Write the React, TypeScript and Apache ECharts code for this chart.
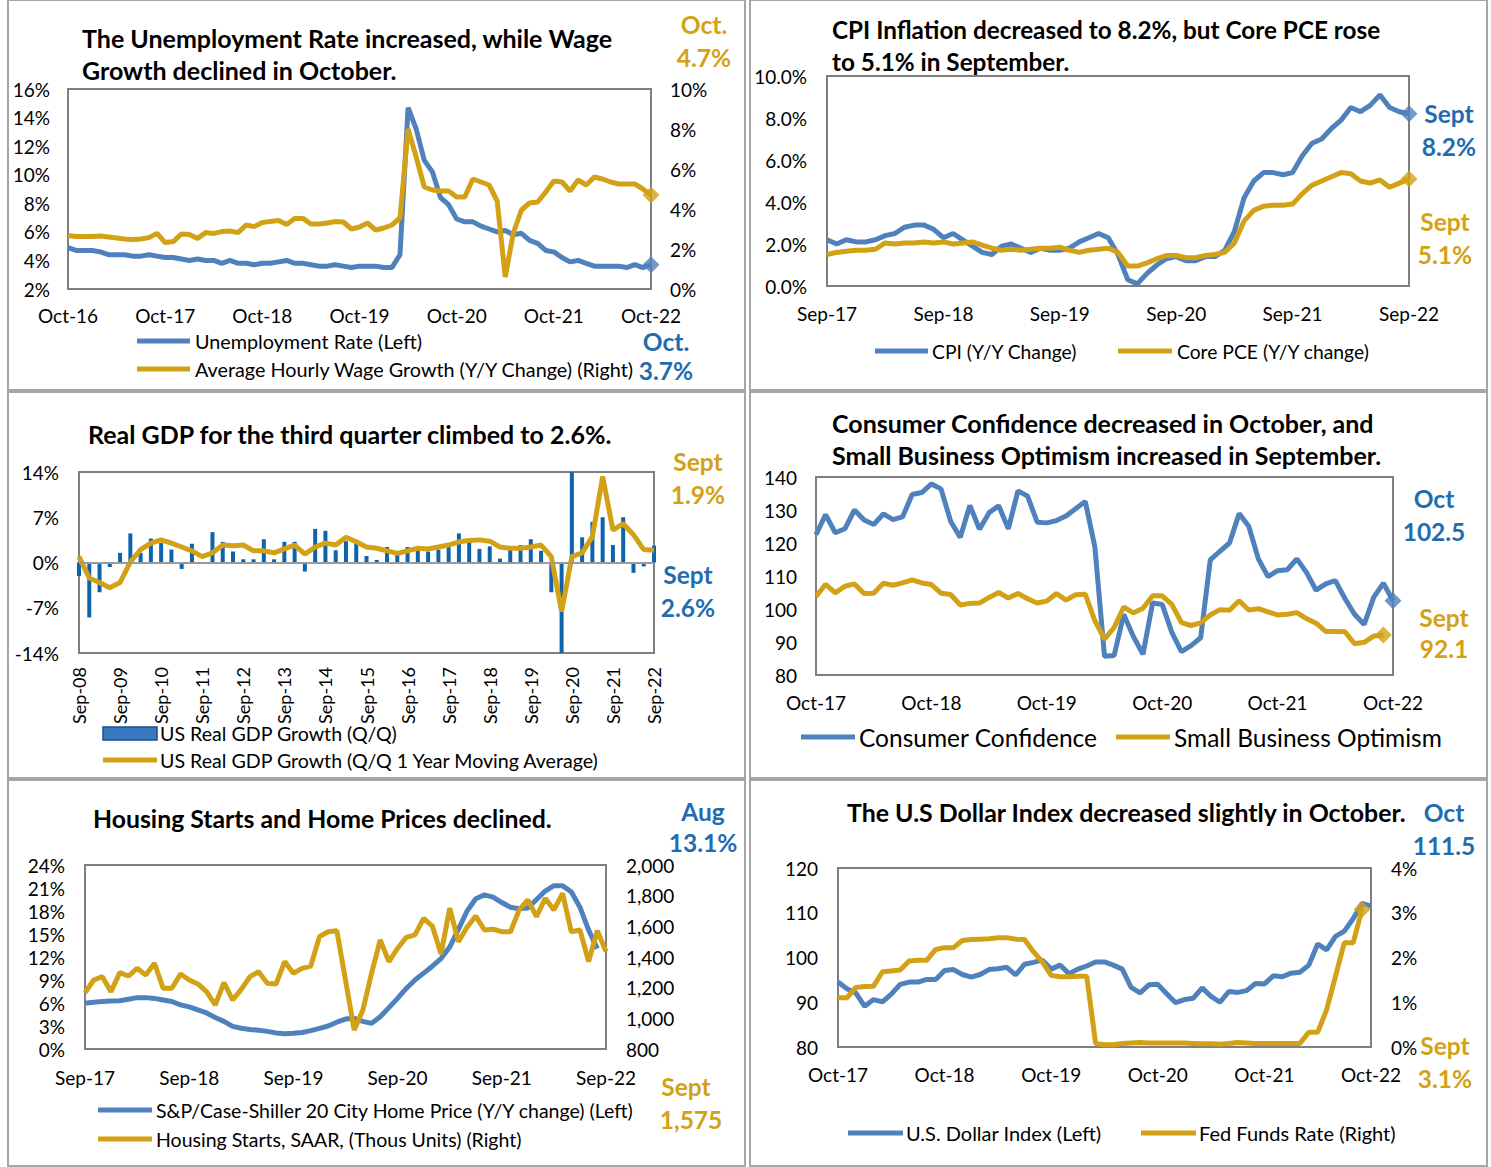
import React, { useEffect, useRef } from "react";
import * as echarts from "echarts";

const FONT = 'Lato, "Open Sans", sans-serif';
const BLUE = "#4F81BD";
const BLUE_TXT = "#1F6CB0";
const GOLD = "#D2A115";
const BAR = "#0E63AD";

const MONTHS = ["Jan", "Feb", "Mar", "Apr", "May", "Jun", "Jul", "Aug", "Sep", "Oct", "Nov", "Dec"];
function monthLabels(startMonth: number, startYear: number, count: number, step = 1): string[] {
  const out: string[] = [];
  let m = startMonth;
  let y = startYear;
  for (let i = 0; i < count; i++) {
    out.push(`${MONTHS[m]}-${String(y % 100).padStart(2, "0")}`);
    m += step;
    while (m > 11) { m -= 12; y += 1; }
  }
  return out;
}

// ---------- Panel 1: Unemployment vs wage growth (Oct-16 .. Oct-22)
const unempCats = monthLabels(9, 2016, 73);
const unemploymentRate = [
  4.9, 4.7, 4.7,
  4.7, 4.6, 4.4, 4.4, 4.4, 4.3, 4.3, 4.4, 4.3, 4.2, 4.2, 4.1,
  4.0, 4.1, 4.0, 4.0, 3.8, 4.0, 3.8, 3.8, 3.7, 3.8, 3.8, 3.9,
  4.0, 3.8, 3.8, 3.7, 3.6, 3.6, 3.7, 3.6, 3.5, 3.6, 3.6, 3.6,
  3.5, 3.5, 4.4, 14.7, 13.2, 11.0, 10.2, 8.4, 7.9, 6.9, 6.7, 6.7,
  6.4, 6.2, 6.0, 6.1, 5.8, 5.9, 5.4, 5.2, 4.7, 4.6, 4.2, 3.9,
  4.0, 3.8, 3.6, 3.6, 3.6, 3.6, 3.5, 3.7, 3.5, 3.7,
];
const wageGrowth = [
  2.67, 2.63, 2.62, 2.62, 2.65, 2.6, 2.55, 2.5, 2.48, 2.5,
  2.57, 2.78, 2.32, 2.37, 2.75, 2.72, 2.53, 2.82, 2.78, 2.87,
  2.9, 2.82, 3.2, 3.12, 3.32, 3.38, 3.42, 3.23, 3.53, 3.53,
  3.25, 3.25, 3.3, 3.37, 3.35, 3.0, 3.1, 3.3, 2.95, 3.05,
  3.2, 3.55, 8.0, 6.6, 5.1, 4.95, 4.9, 4.9, 4.6, 4.6,
  5.5, 5.35, 5.2, 4.4, 0.6, 2.8, 3.95, 4.3, 4.35, 4.85,
  5.4, 5.35, 4.9, 5.45, 5.2, 5.6, 5.5, 5.35, 5.25, 5.25,
  5.25, 5.0, 4.7,
];

// ---------- Panel 2: CPI vs Core PCE (Sep-17 .. Sep-22)
const cpiCats = monthLabels(8, 2017, 61);
const cpi = [
  2.2, 2.0, 2.2, 2.1,
  2.1, 2.2, 2.4, 2.5, 2.8, 2.9, 2.9, 2.7, 2.3, 2.5, 2.2, 1.9,
  1.6, 1.5, 1.9, 2.0, 1.8, 1.6, 1.8, 1.7, 1.7, 1.8, 2.1, 2.3,
  2.5, 2.3, 1.5, 0.3, 0.1, 0.6, 1.0, 1.3, 1.4, 1.2, 1.2, 1.4,
  1.4, 1.7, 2.6, 4.2, 5.0, 5.4, 5.4, 5.3, 5.4, 6.2, 6.8, 7.0,
  7.5, 7.9, 8.5, 8.3, 8.6, 9.1, 8.5, 8.3, 8.2,
];
const corePce = [
  1.5, 1.6, 1.65, 1.7, 1.7, 1.75, 2.05, 2.0, 2.05, 2.05, 2.1, 2.05, 2.1, 2.0, 2.05, 2.1,
  1.95, 1.8, 1.7, 1.75, 1.7, 1.75, 1.8, 1.8, 1.85, 1.7, 1.6, 1.7,
  1.75, 1.8, 1.6, 0.95, 0.95, 1.1, 1.3, 1.45, 1.45, 1.35, 1.35, 1.45, 1.5,
  1.6, 2.05, 3.1, 3.6, 3.8, 3.85, 3.85, 3.9, 4.4, 4.8, 5.0, 5.2, 5.4, 5.35, 5.0, 4.9, 5.05, 4.7, 4.9, 5.1,
];

// ---------- Panel 3: Real GDP (Sep-08 .. Sep-22, quarterly)
const gdpCats = monthLabels(8, 2008, 57, 3);
const gdpGrowth = [
  -2.1, -8.5,
  -4.6, -0.7, 1.5, 4.5,
  1.5, 3.7, 3.0, 2.0,
  -1.0, 2.9, -0.1, 4.7,
  3.2, 1.7, 0.5, 0.5,
  3.6, 0.5, 3.2, 3.2,
  -1.4, 5.2, 4.9, 1.9,
  3.3, 3.3, 1.0, 0.4,
  2.4, 1.2, 2.4, 2.0,
  1.7, 2.0, 2.9, 4.5,
  3.3, 2.1, 2.5, 0.6,
  2.2, 2.7, 3.6, 1.8,
  -4.6, -29.9, 35.3, 3.9,
  6.3, 7.0, 2.7, 7.0,
  -1.6, -0.6, 2.6,
];
const gdpMovingAvg = [
  0.9, -2.4, -3.1, -3.9, -3.1, 0.1, 2.0, 3.0, 3.5, 3.0,
  2.4, 1.8, 0.9, 1.5, 2.7, 2.6, 2.7, 1.8, 1.8, 1.5,
  2.1, 2.7, 1.3, 2.4, 3.0, 2.7, 3.9, 3.2, 2.4, 2.2,
  1.8, 1.4, 1.8, 2.2, 2.1, 2.4, 2.7, 3.2, 3.4, 3.5,
  3.3, 2.4, 2.2, 2.2, 2.4, 2.7, 0.9, -7.6, 0.9, 1.5,
  4.0, 13.3, 5.0, 6.0, 4.3, 2.0, 1.9,
];

// ---------- Panel 4: Consumer Confidence vs Small Business Optimism (Oct-17 .. Oct-22)
const ccCats = monthLabels(9, 2017, 61);
const consumerConfidence = [
  122.5, 128.6, 123.1,
  124.3, 130.0, 127.0, 125.6, 128.8, 127.1, 127.9, 134.7, 135.3, 137.9, 136.4, 126.6,
  121.7, 131.4, 124.2, 129.2, 131.3, 124.3, 135.8, 134.2, 126.3, 126.1, 126.8, 128.2,
  130.4, 132.6, 118.8, 85.7, 85.9, 98.3, 91.7, 86.3, 101.8, 101.4, 92.9, 87.1,
  88.9, 91.3, 114.9, 117.5, 120.0, 128.9, 125.1, 115.2, 109.8, 111.6, 111.9, 115.2,
  111.1, 105.7, 107.6, 108.6, 103.2, 98.4, 95.3, 103.6, 107.8, 102.5,
];
const smallBizOptimism = [
  103.8, 107.5, 104.9,
  106.9, 107.6, 104.7, 104.8, 107.8, 107.2, 107.9, 108.8, 107.9, 107.4, 104.8, 104.4,
  101.2, 101.7, 101.8, 103.5, 105.0, 103.3, 104.7, 103.1, 101.8, 102.4, 104.7, 102.7,
  104.3, 104.5, 96.4, 90.9, 94.4, 100.6, 98.8, 100.2, 104.0, 104.0, 101.4, 95.9,
  95.0, 95.8, 98.2, 99.8, 99.6, 102.5, 99.7, 100.1, 99.1, 98.2, 98.4, 98.9,
  97.1, 95.7, 93.2, 93.2, 93.1, 89.5, 89.9, 91.8, 92.1,
];

// ---------- Panel 5: Case-Shiller vs Housing starts (Sep-17 .. Sep-22)
const housingCats = monthLabels(8, 2017, 61);
const caseShiller = [
  5.96, 6.1, 6.2, 6.25, 6.3, 6.5, 6.7, 6.7, 6.6, 6.4,
  6.2, 5.75, 5.5, 5.1, 4.7, 4.1, 3.6, 2.95, 2.7, 2.55,
  2.45, 2.3, 2.1, 2.0, 2.05, 2.15, 2.4, 2.7, 3.0, 3.5,
  3.9, 4.0, 3.6, 3.35, 4.2, 5.4, 6.6, 7.9, 9.0, 9.9,
  10.8, 11.8, 13.3, 15.6, 18.0, 19.6, 20.1, 19.8, 19.1, 18.5,
  18.3, 18.4, 19.5, 20.6, 21.3, 21.3, 20.5, 18.5, 15.5, 13.1,
];
const housingStarts = [
  1167, 1250, 1272, 1174, 1298, 1276, 1326, 1283, 1359, 1196,
  1196, 1289, 1250, 1224, 1174, 1087, 1233, 1120, 1189, 1272,
  1304, 1228, 1224, 1370, 1294, 1326, 1341, 1533, 1565, 1572,
  1250, 924, 1054, 1294, 1511, 1370, 1457, 1528, 1544, 1652,
  1602, 1420, 1718, 1500, 1594, 1667, 1576, 1581, 1565, 1565,
  1707, 1772, 1663, 1783, 1707, 1815, 1565, 1576, 1370, 1572,
  1435,
];

// ---------- Panel 6: Dollar index vs Fed funds (Oct-17 .. Oct-22)
const dxyCats = monthLabels(9, 2017, 61);
const dollarIndex = [
  94.5, 93.0, 92.1,
  89.1, 90.6, 90.1, 91.8, 94.0, 94.5, 94.5, 95.1, 95.1, 97.1, 97.3, 96.2,
  95.6, 96.2, 97.3, 97.5, 97.8, 96.1, 98.5, 98.9, 99.4, 97.4, 98.3, 96.4,
  97.4, 98.1, 99.0, 99.0, 98.3, 97.4, 93.3, 92.1, 93.9, 94.0, 91.9, 89.9,
  90.6, 90.9, 93.2, 91.3, 90.0, 92.4, 92.2, 92.6, 94.2, 94.1, 95.9, 95.7,
  96.5, 96.7, 98.3, 103.0, 101.7, 104.7, 105.9, 108.7, 112.1, 111.5,
];
const fedFunds = [
  1.1, 1.1, 1.33,
  1.35, 1.36, 1.68, 1.7, 1.72, 1.92, 1.94, 1.94, 2.18, 2.22, 2.22, 2.38,
  2.4, 2.41, 2.42, 2.44, 2.44, 2.41, 2.4, 2.13, 1.9, 1.6, 1.57, 1.57,
  1.58, 1.58, 0.08, 0.05, 0.05, 0.08, 0.09, 0.1, 0.09, 0.09, 0.09, 0.09,
  0.09, 0.08, 0.07, 0.07, 0.06, 0.08, 0.1, 0.09, 0.08, 0.08, 0.08, 0.08,
  0.08, 0.08, 0.33, 0.33, 0.83, 1.58, 2.33, 2.33, 3.08,
];

// ---------- helpers
const labelBase = { color: "#000", fontSize: 19, fontFamily: FONT };

function gridBox(left: number, top: number, width: number, height: number) {
  return { left, top, width, height, show: true, borderColor: "#7F7F7F", borderWidth: 2, backgroundColor: "transparent", containLabel: false };
}
function catAxis(gridIndex: number, data: string[], interval: number, margin: number, extra: any = {}) {
  return {
    gridIndex, type: "category", data, boundaryGap: false,
    axisLine: { show: false }, axisTick: { show: false }, splitLine: { show: false },
    axisLabel: { ...labelBase, interval, margin, ...extra },
  };
}
function valAxis(gridIndex: number, min: number, max: number, interval: number, formatter: any, margin: number, position = "left") {
  return {
    gridIndex, type: "value", min, max, interval, position,
    axisLine: { show: false }, axisTick: { show: false }, splitLine: { show: false },
    axisLabel: { ...labelBase, formatter, margin },
  };
}
function lineSeries(name: string, data: number[], color: string, xi: number, yi: number, z = 2) {
  return {
    name, type: "line", data, xAxisIndex: xi, yAxisIndex: yi, symbol: "none", z,
    lineStyle: { color, width: 5 }, itemStyle: { color },
  };
}
function lastDiamond(cats: string[], data: number[], color: string, xi: number, yi: number) {
  const i = data.length - 1;
  return {
    type: "scatter", xAxisIndex: xi, yAxisIndex: yi, symbol: "diamond", symbolSize: 17, z: 5,
    itemStyle: { color }, data: [[cats[i], data[i]]],
  };
}
function txt(text: string, x: number, y: number, size: number, fill = "#000", bold = false, align = "left") {
  return {
    type: "text", x, y, z: 100, silent: true,
    style: {
      text, fill, font: `${bold ? "bold " : ""}${size}px ${FONT}`,
      textAlign: align, align, textVerticalAlign: "middle", verticalAlign: "middle",
    },
  };
}
function legendLine(x1: number, x2: number, y: number, color: string) {
  return { type: "line", z: 100, silent: true, shape: { x1, y1: y, x2, y2: y }, style: { stroke: color, lineWidth: 5 } };
}
function box(x: number, y: number, width: number, height: number) {
  return { type: "rect", z: 0, silent: true, shape: { x, y, width, height }, style: { fill: "none", stroke: "#A6A6A6", lineWidth: 2 } };
}

const pct = (v: number) => `${v}%`;
const T = 25;   // title size
const A = 24.5; // annotation size

export default function App() {
  const ref = useRef<HTMLDivElement>(null);
  useEffect(() => {
    if (!ref.current) return;
    const chart = echarts.init(ref.current, null, { renderer: "svg" });
    const option: any = {
      animation: false,
      backgroundColor: "#fff",
      grid: [
        gridBox(68, 89, 583, 200),
        gridBox(827, 76, 582, 210),
        gridBox(79, 472, 575, 181),
        gridBox(816, 477, 577, 198),
        gridBox(85, 865, 521, 184),
        gridBox(838, 868, 533, 179),
      ],
      xAxis: [
        catAxis(0, unempCats, 11, 17),
        catAxis(1, cpiCats, 11, 18),
        catAxis(2, gdpCats, 3, 14, { rotate: 90, fontSize: 18 }),
        catAxis(3, ccCats, 11, 18),
        catAxis(4, housingCats, 11, 19),
        catAxis(5, dxyCats, 11, 18),
      ],
      yAxis: [
        valAxis(0, 2, 16, 2, pct, 18),
        valAxis(0, 0, 10, 2, pct, 19, "right"),
        valAxis(1, 0, 10, 2, (v: number) => `${v.toFixed(1)}%`, 20),
        valAxis(2, -14, 14, 7, pct, 20),
        valAxis(3, 80, 140, 10, "{value}", 19),
        valAxis(4, 0, 24, 3, pct, 20),
        valAxis(4, 800, 2000, 200, (v: number) => v.toLocaleString("en-US"), 20, "right"),
        valAxis(5, 80, 120, 10, "{value}", 20),
        valAxis(5, 0, 4, 1, pct, 20, "right"),
      ],
      series: [
        lineSeries("Unemployment Rate (Left)", unemploymentRate, BLUE, 0, 0),
        lineSeries("Average Hourly Wage Growth (Y/Y Change) (Right)", wageGrowth, GOLD, 0, 1, 3),
        lastDiamond(unempCats, unemploymentRate, BLUE, 0, 0),
        lastDiamond(unempCats, wageGrowth, GOLD, 0, 1),

        lineSeries("CPI (Y/Y Change)", cpi, BLUE, 1, 2),
        lineSeries("Core PCE (Y/Y change)", corePce, GOLD, 1, 2, 3),
        lastDiamond(cpiCats, cpi, BLUE, 1, 2),
        lastDiamond(cpiCats, corePce, GOLD, 1, 2),

        {
          name: "US Real GDP Growth (Q/Q)", type: "bar", data: gdpGrowth, xAxisIndex: 2, yAxisIndex: 3,
          barWidth: 4, itemStyle: { color: BAR }, clip: true, z: 2,
          markLine: {
            silent: true, symbol: "none", label: { show: false },
            lineStyle: { color: "#9A9A9A", width: 2, type: "solid" },
            data: [{ yAxis: 0 }],
          },
        },
        lineSeries("US Real GDP Growth (Q/Q 1 Year Moving Average)", gdpMovingAvg, GOLD, 2, 3, 4),

        lineSeries("Consumer Confidence", consumerConfidence, BLUE, 3, 4),
        lineSeries("Small Business Optimism", smallBizOptimism, GOLD, 3, 4, 3),
        lastDiamond(ccCats, consumerConfidence, BLUE, 3, 4),
        lastDiamond(ccCats, smallBizOptimism, GOLD, 3, 4),

        lineSeries("S&P/Case-Shiller 20 City Home Price (Y/Y change) (Left)", caseShiller, BLUE, 4, 5),
        lineSeries("Housing Starts, SAAR, (Thous Units) (Right)", housingStarts, GOLD, 4, 6, 3),

        lineSeries("U.S. Dollar Index (Left)", dollarIndex, BLUE, 5, 7),
        lineSeries("Fed Funds Rate (Right)", fedFunds, GOLD, 5, 8, 3),
        lastDiamond(dxyCats, fedFunds, GOLD, 5, 8),
      ],
      graphic: [
        box(8, 0, 737, 390),
        box(750, 0, 737, 390),
        box(8, 392, 737, 386),
        box(750, 392, 737, 386),
        box(8, 780, 737, 386),
        box(750, 780, 737, 386),

        // Panel 1
        txt("The Unemployment Rate increased, while Wage", 82, 38, T, "#000", true),
        txt("Growth declined in October.", 82, 70, T, "#000", true),
        txt("Oct.", 704, 24, A, GOLD, true, "center"),
        txt("4.7%", 704, 57, A, GOLD, true, "center"),
        txt("Oct.", 666, 341, A, BLUE_TXT, true, "center"),
        txt("3.7%", 666, 370, A, BLUE_TXT, true, "center"),
        legendLine(137, 190, 341, BLUE),
        txt("Unemployment Rate (Left)", 195, 341, 19.8),
        legendLine(137, 190, 369, GOLD),
        txt("Average Hourly Wage Growth (Y/Y Change) (Right)", 195, 369, 19.8),

        // Panel 2
        txt("CPI Inflation decreased to 8.2%, but Core PCE rose", 832, 29, 24.3, "#000", true),
        txt("to 5.1% in September.", 832, 61, 24.3, "#000", true),
        txt("Sept", 1449, 113, A, BLUE_TXT, true, "center"),
        txt("8.2%", 1449, 146, A, BLUE_TXT, true, "center"),
        txt("Sept", 1445, 221, A, GOLD, true, "center"),
        txt("5.1%", 1445, 254, A, GOLD, true, "center"),
        legendLine(875, 928, 351, BLUE),
        txt("CPI (Y/Y Change)", 932, 351, 19.3),
        legendLine(1118, 1172, 351, GOLD),
        txt("Core PCE (Y/Y change)", 1177, 351, 19.3),

        // Panel 3
        txt("Real GDP for the third quarter climbed to 2.6%.", 88, 434, T, "#000", true),
        txt("Sept", 698, 461, A, GOLD, true, "center"),
        txt("1.9%", 698, 494, A, GOLD, true, "center"),
        txt("Sept", 688, 574, A, BLUE_TXT, true, "center"),
        txt("2.6%", 688, 607, A, BLUE_TXT, true, "center"),
        { type: "rect", z: 100, silent: true, shape: { x: 103, y: 727, width: 54, height: 13 }, style: { fill: "#3A78C0", stroke: "#1B4F8A", lineWidth: 1.5 } },
        txt("US Real GDP Growth (Q/Q)", 160, 733, 19.6),
        legendLine(103, 157, 760, GOLD),
        txt("US Real GDP Growth (Q/Q 1 Year Moving Average)", 160, 760, 19.6),

        // Panel 4
        txt("Consumer Confidence decreased in October, and", 832, 423, T, "#000", true),
        txt("Small Business Optimism increased in September.", 832, 455, T, "#000", true),
        txt("Oct", 1434, 498, A, BLUE_TXT, true, "center"),
        txt("102.5", 1434, 531, A, BLUE_TXT, true, "center"),
        txt("Sept", 1444, 617, A, GOLD, true, "center"),
        txt("92.1", 1444, 648, A, GOLD, true, "center"),
        legendLine(801, 855, 737, BLUE),
        txt("Consumer Confidence", 859, 737, 24.5),
        legendLine(1116, 1170, 737, GOLD),
        txt("Small Business Optimism", 1174, 737, 24.5),

        // Panel 5
        txt("Housing Starts and Home Prices declined.", 93, 818, 24.8, "#000", true),
        txt("Aug", 703, 811, A, BLUE_TXT, true, "center"),
        txt("13.1%", 703, 842, A, BLUE_TXT, true, "center"),
        txt("Sept", 686, 1086, A, GOLD, true, "center"),
        txt("1,575", 691, 1119, A, GOLD, true, "center"),
        legendLine(98, 152, 1110, BLUE),
        txt("S&P/Case-Shiller 20 City Home Price (Y/Y change) (Left)", 156, 1110, 19.5),
        legendLine(98, 152, 1139, GOLD),
        txt("Housing Starts, SAAR, (Thous Units) (Right)", 156, 1139, 19.5),

        // Panel 6
        txt("The U.S Dollar Index decreased slightly in October.", 847, 812, 24.9, "#000", true),
        txt("Oct", 1444, 812, A, BLUE_TXT, true, "center"),
        txt("111.5", 1444, 845, A, BLUE_TXT, true, "center"),
        txt("Sept", 1445, 1045, A, GOLD, true, "center"),
        txt("3.1%", 1445, 1078, A, GOLD, true, "center"),
        legendLine(848, 903, 1133, BLUE),
        txt("U.S. Dollar Index (Left)", 906, 1133, 20),
        legendLine(1141, 1196, 1133, GOLD),
        txt("Fed Funds Rate (Right)", 1199, 1133, 20),
      ],
    };
    chart.setOption(option);
    return () => chart.dispose();
  }, []);
  return (
    <div
      ref={ref}
      style={{ position: "absolute", left: 0, top: 0, width: 1491, height: 1167, background: "#fff" }}
    />
  );
}
